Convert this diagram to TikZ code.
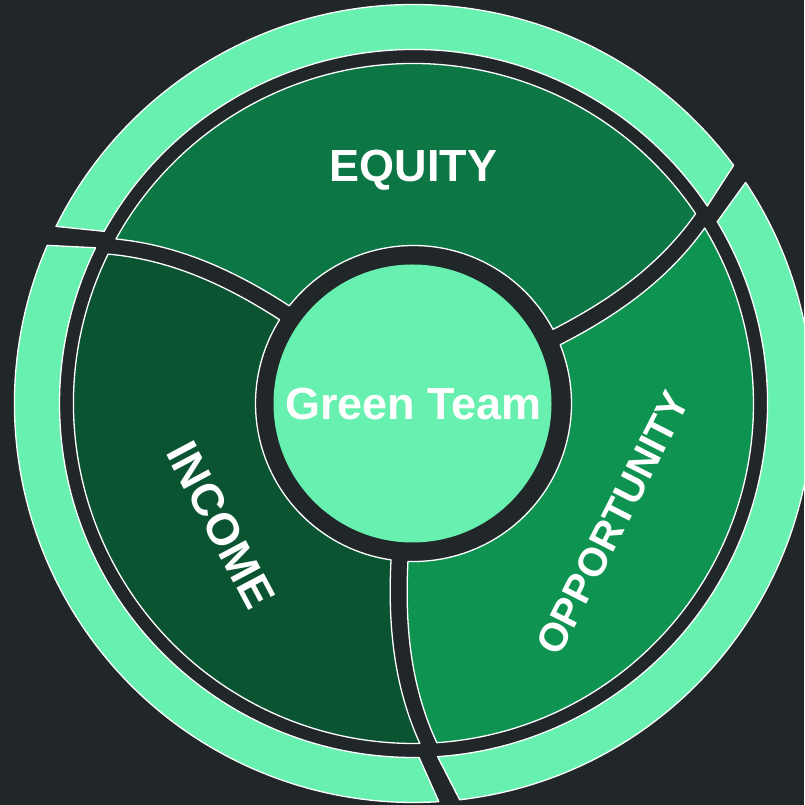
\documentclass[tikz,border=0pt]{standalone}
\usepackage{fontspec}
\setmainfont{Liberation Sans}
\definecolor{bg}{HTML}{212629}
\definecolor{lightg}{HTML}{67F0AF}
\definecolor{eqg}{HTML}{0C7744}
\definecolor{incg}{HTML}{0A5432}
\definecolor{oppg}{HTML}{0F9350}
\newcommand\drawsegment[3]{%
  \pgfmathsetmacro\segAone{#2+7.6+8.5/340*57.2958}%
  \pgfmathsetmacro\segAtwo{#3+7.6-8.5/340*57.2958}%
  \pgfmathsetmacro\segAthree{#3-8.5/158*57.2958}%
  \pgfmathsetmacro\segAfour{#2+8.5/158*57.2958}%
  \filldraw[segsty, fill=#1]
    plot[variable=\r, domain=158:340, samples=30] ({#2+g(\r)+dl(\r)}:{\r})
    arc[start angle=\segAone, end angle=\segAtwo, radius=340]
    -- plot[variable=\r, domain=340:158, samples=30] ({#3+g(\r)-dl(\r)}:{\r})
    arc[start angle=\segAthree, end angle=\segAfour, radius=158] -- cycle;}
\newcommand\drawringpiece[2]{%
  \pgfmathsetmacro\rgAone{#1+10.25+1.5}%
  \pgfmathsetmacro\rgAtwo{#2+10.25-1.5}%
  \pgfmathsetmacro\rgAthree{#2+7.5-1.5}%
  \pgfmathsetmacro\rgAfour{#1+7.5+1.5}%
  \filldraw[segsty, fill=lightg]
    (\rgAfour:354) -- (\rgAone:399)
    arc[start angle=\rgAone, end angle=\rgAtwo, radius=399]
    -- (\rgAthree:354)
    arc[start angle=\rgAthree, end angle=\rgAfour, radius=354] -- cycle;}
\begin{document}
\begin{tikzpicture}[x=1pt,y=1pt,
  declare function={g(\r)=7.6*(0.35*((\r-158)/182)+0.65*((\r-158)/182)^2); dl(\r)=8.5/\r*57.2958;},
  segsty/.style={draw=white, line width=1.3pt, line join=round},
  lab/.style={text=white, font=\bfseries\fontsize{45}{45}\selectfont, inner sep=0pt}]
\useasboundingbox (0,0) rectangle (804,805);
\clip (0,0) rectangle (804,805);
\fill[bg] (0,0) rectangle (804,805);
\begin{scope}[shift={(413.5,401.5)}]
  \drawringpiece{24.9}{144.9}
  \drawringpiece{144.9}{264.9}
  \drawringpiece{264.9}{384.9}
  \drawsegment{eqg}{24.9}{144.9}
  \drawsegment{incg}{144.9}{264.9}
  \drawsegment{oppg}{264.9}{384.9}
  \fill[lightg] (-1,0) circle[radius=139];
\end{scope}
\node[lab, anchor=base] (equity) at (413.5,623) {EQUITY};
\node[lab, anchor=base] (team) at (413.5,385) {Green Team};
\node[lab, rotate=-62] (income) at (221,280) {INCOME};
\node[lab, rotate=63, font=\bfseries\fontsize{40}{40}\selectfont] (opp) at (613,282) {OPPORTUNITY};
\end{tikzpicture}
\end{document}
